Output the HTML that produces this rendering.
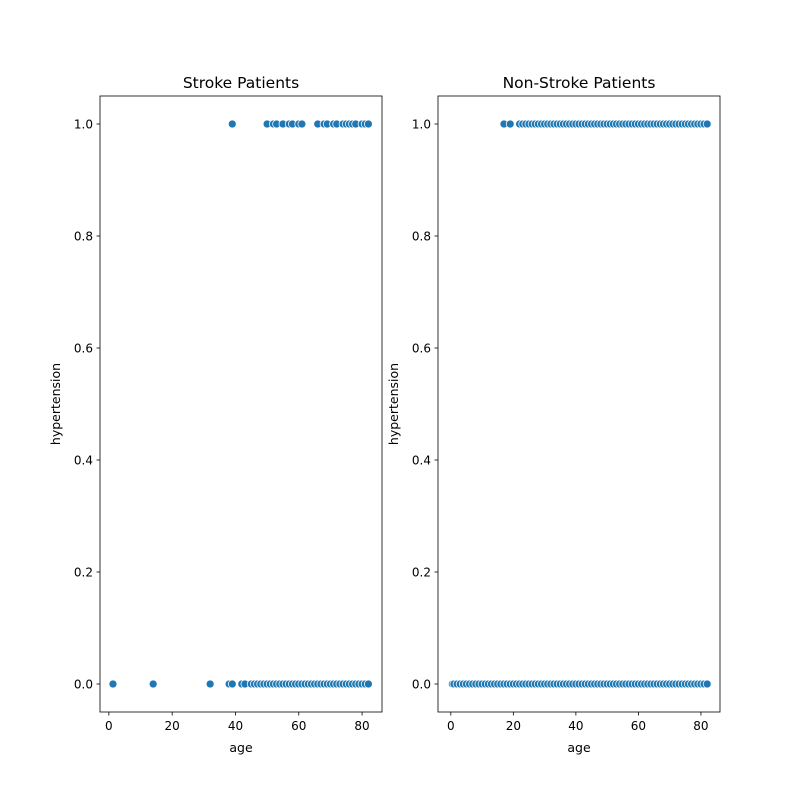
<!DOCTYPE html>
<html><head><meta charset="utf-8"><style>
body{margin:0;background:#fff;font-family:"Liberation Sans","DejaVu Sans",sans-serif}
svg text{font-family:"DejaVu Sans","Liberation Sans",sans-serif;fill:#000}
</style></head><body>
<svg id="c" width="800" height="800"></svg>
<script>
const strokeAges1=[39,50,52,53,55,57,58,60,61,66,68,69,71,72,74,75,76,77,78,80,81,82];
const strokeAges0=[1.3,14,32,38,39,42,43,45,46,47,48,49,50,51,52,53,54,55,56,57,58,59,60,61,62,63,64,65,66,67,68,69,70,71,72,73,74,75,76,77,78,79,80,81,82];
const nonAges1=[17,19,22,23,24,25,26,27,28,29,30,31,32,33,34,35,36,37,38,39,40,41,42,43,44,45,46,47,48,49,50,51,52,53,54,55,56,57,58,59,60,61,62,63,64,65,66,67,68,69,70,71,72,73,74,75,76,77,78,79,80,81,82];
const nonAges0=[0.5,1,2,3,4,5,6,7,8,9,10,11,12,13,14,15,16,17,18,19,20,21,22,23,24,25,26,27,28,29,30,31,32,33,34,35,36,37,38,39,40,41,42,43,44,45,46,47,48,49,50,51,52,53,54,55,56,57,58,59,60,61,62,63,64,65,66,67,68,69,70,71,72,73,74,75,76,77,78,79,80,81,82];
const xTicks=[0,20,40,60,80];
const yTicks=[0,0.2,0.4,0.6,0.8,1.0];
const NS="http://www.w3.org/2000/svg";
const svg=document.getElementById('c');
function mk(t,a,p){const e=document.createElementNS(NS,t);for(const k in a)e.setAttribute(k,a[k]);(p||svg).appendChild(e);return e;}
function panel(x0,x1,title,ones,zeros,name,xmin,xmax){
  const y0=96,y1=712;
  const g=mk('g',{});
  
  
  const sx=v=>x0+(v-xmin)/(xmax-xmin)*(x1-x0);
  const sy=v=>684-v*560;
  [[ones,1],[zeros,0]].forEach(([arr,yv])=>arr.forEach(a=>{
    const c=mk('circle',{cx:sx(a),cy:sy(yv),r:4,fill:'#1f77b4',stroke:'#fff','stroke-width':0.75},g);
    
    
  }));
  const fr=mk('rect',{x:x0,y:y0,width:x1-x0,height:y1-y0,fill:'none',stroke:'#000','stroke-width':0.8},g);
  
  
  xTicks.forEach(t=>{const x=sx(t);mk('line',{x1:x,x2:x,y1:y1,y2:y1+3.5,stroke:'#000','stroke-width':0.8},g);
    const tx=mk('text',{x:x,y:y1+18,'font-size':12,'text-anchor':'middle'},g);tx.textContent=t;
    });
  yTicks.forEach(t=>{const y=sy(t);mk('line',{x1:x0,x2:x0-3.5,y1:y,y2:y,stroke:'#000','stroke-width':0.8},g);
    const tx=mk('text',{x:x0-7,y:y+4.5,'font-size':12,'text-anchor':'end'},g);tx.textContent=t.toFixed(1);
    });
  const tt=mk('text',{x:(x0+x1)/2,y:88,'font-size':15.5,'text-anchor':'middle'},g);tt.textContent=title;
  
  const xl=mk('text',{x:(x0+x1)/2,y:752,'font-size':12.5,'text-anchor':'middle'},g);xl.textContent='age';
  
  const yl=mk('text',{x:0,y:0,'font-size':12.5,'text-anchor':'middle',transform:`translate(${x0-40},404) rotate(-90)`},g);yl.textContent='hypertension';
  
}
panel(100,382,'Stroke Patients',strokeAges1,strokeAges0,'stroke-panel',-2.8,86.3);
panel(438,720,'Non-Stroke Patients',nonAges1,nonAges0,'non-stroke-panel',-4.1,86.1);
</script>
</body></html>
